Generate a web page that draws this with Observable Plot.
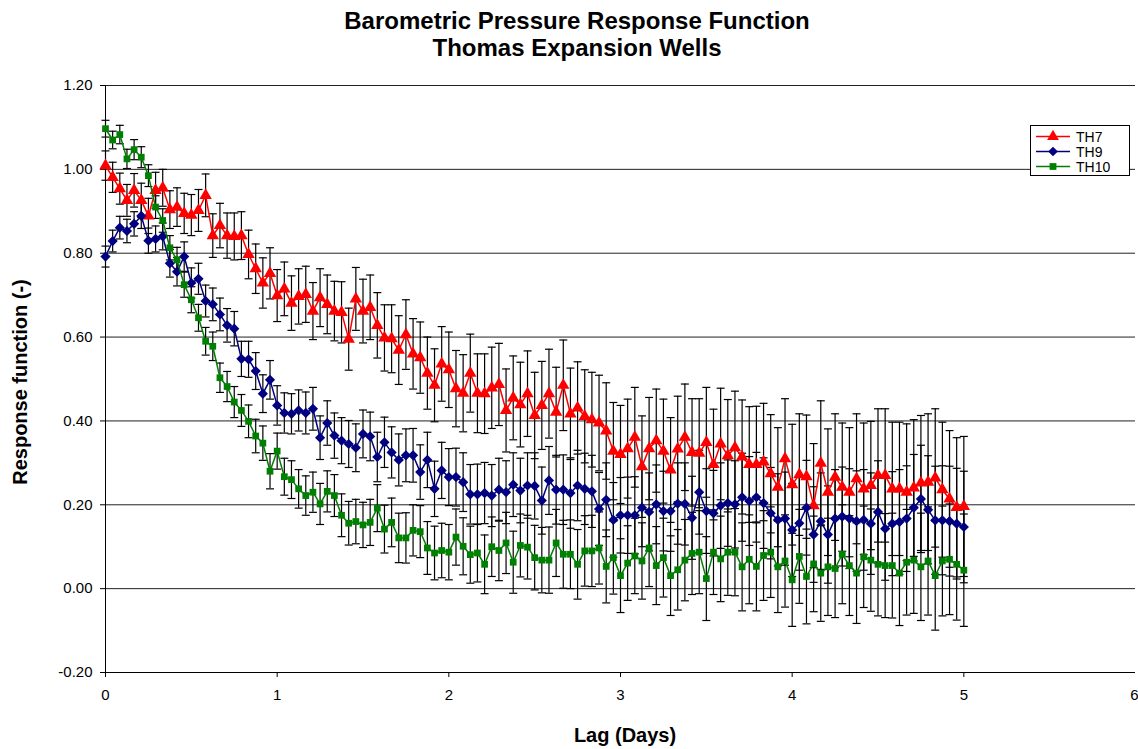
<!DOCTYPE html>
<html>
<head>
<meta charset="utf-8">
<script src="https://cdn.jsdelivr.net/npm/d3@7"></script>
<script src="https://cdn.jsdelivr.net/npm/@observablehq/plot@0.6"></script>
<style>
  body { margin: 0; background: #fff; }
  #wrap { position: relative; width: 1138px; height: 749px; font-family: "Liberation Sans", Arial, sans-serif; color: #000; }
  .title { position: absolute; left: 0; width: 1154px; text-align: center; font-weight: bold; font-size: 24px; line-height: 27px; }
  #ylab { position: absolute; left: 20px; top: 382px; transform: translate(-50%, -50%) rotate(-90deg); font-weight: bold; font-size: 20px; white-space: nowrap; }
  #xlab { position: absolute; left: 625px; top: 735px; transform: translate(-50%, -50%); font-weight: bold; font-size: 20px; white-space: nowrap; }
  #legend { position: absolute; left: 1030px; top: 125px; width: 100px; height: 51px; border: 1px solid #000; background: #fff; box-sizing: border-box; font-size: 14px; }
  .lrow { position: absolute; left: 4px; height: 15px; display: flex; align-items: center; }
  .lrow svg { margin-right: 5px; }
</style>
</head>
<body>
<div id="wrap">
  <div id="chart"></div>
  <div class="title" style="top:7px">Barometric Pressure Response Function</div>
  <div class="title" style="top:34px">Thomas Expansion Wells</div>
  <div id="ylab">Response function (-)</div>
  <div id="xlab">Lag (Days)</div>
  <div id="legend"></div>
</div>
<script>
// Lag in hours (0..120), plotted in days
const seriesNames = ["TH7", "TH9", "TH10"];
const seriesColors = ["#ff0000", "#000080", "#008000"];
const seriesSymbols = ["triangle", "diamond2", "square"];
const xTicks = [0, 1, 2, 3, 4, 5, 6];
const yTicks = [-0.2, 0, 0.2, 0.4, 0.6, 0.8, 1.0, 1.2];

const th7 = [
  1.009, 0.981, 0.954, 0.926, 0.950, 0.926, 0.889, 0.950, 0.956, 0.904, 0.910, 0.895,
  0.891, 0.902, 0.938, 0.842, 0.866, 0.842, 0.840, 0.842, 0.797, 0.763, 0.729, 0.752,
  0.699, 0.715, 0.681, 0.697, 0.702, 0.662, 0.694, 0.678, 0.662, 0.659, 0.595, 0.691,
  0.662, 0.671, 0.628, 0.598, 0.596, 0.569, 0.606, 0.560, 0.551, 0.514, 0.485, 0.536,
  0.522, 0.477, 0.466, 0.514, 0.466, 0.465, 0.479, 0.487, 0.425, 0.455, 0.439, 0.465,
  0.413, 0.437, 0.465, 0.421, 0.485, 0.417, 0.431, 0.411, 0.403, 0.395, 0.376, 0.328,
  0.320, 0.334, 0.361, 0.291, 0.334, 0.353, 0.328, 0.283, 0.333, 0.361, 0.325, 0.323,
  0.349, 0.296, 0.345, 0.317, 0.336, 0.314, 0.296, 0.296, 0.302, 0.274, 0.242, 0.310,
  0.248, 0.272, 0.267, 0.198, 0.299, 0.230, 0.266, 0.242, 0.230, 0.262, 0.238, 0.246,
  0.270, 0.270, 0.238, 0.238, 0.230, 0.240, 0.252, 0.254, 0.264, 0.236, 0.214, 0.194,
  0.196
];
const th9 = [
  0.792, 0.829, 0.861, 0.853, 0.870, 0.889, 0.830, 0.834, 0.840, 0.776, 0.756, 0.792,
  0.729, 0.739, 0.686, 0.678, 0.654, 0.628, 0.620, 0.548, 0.547, 0.519, 0.465, 0.498,
  0.437, 0.419, 0.417, 0.425, 0.419, 0.429, 0.360, 0.395, 0.365, 0.353, 0.345, 0.336,
  0.369, 0.363, 0.314, 0.349, 0.325, 0.307, 0.318, 0.318, 0.278, 0.307, 0.238, 0.282,
  0.266, 0.266, 0.254, 0.225, 0.225, 0.228, 0.222, 0.236, 0.230, 0.248, 0.234, 0.246,
  0.245, 0.210, 0.258, 0.236, 0.236, 0.228, 0.246, 0.238, 0.232, 0.190, 0.212, 0.164,
  0.175, 0.175, 0.175, 0.193, 0.183, 0.201, 0.185, 0.185, 0.203, 0.202, 0.169, 0.230,
  0.185, 0.180, 0.198, 0.204, 0.201, 0.218, 0.209, 0.218, 0.204, 0.180, 0.164, 0.167,
  0.140, 0.156, 0.193, 0.129, 0.161, 0.129, 0.167, 0.172, 0.167, 0.161, 0.164, 0.155,
  0.183, 0.143, 0.155, 0.159, 0.167, 0.193, 0.214, 0.188, 0.163, 0.163, 0.161, 0.155,
  0.147
];
const th10 = [
  1.097, 1.070, 1.083, 1.025, 1.047, 1.029, 0.985, 0.910, 0.878, 0.813, 0.784, 0.725,
  0.689, 0.646, 0.590, 0.578, 0.503, 0.482, 0.445, 0.425, 0.399, 0.364, 0.347, 0.280,
  0.328, 0.267, 0.260, 0.238, 0.222, 0.230, 0.202, 0.232, 0.222, 0.175, 0.156, 0.160,
  0.152, 0.158, 0.192, 0.142, 0.158, 0.121, 0.121, 0.139, 0.136, 0.097, 0.085, 0.091,
  0.087, 0.123, 0.101, 0.081, 0.085, 0.058, 0.100, 0.091, 0.109, 0.063, 0.103, 0.099,
  0.074, 0.068, 0.068, 0.109, 0.082, 0.082, 0.058, 0.090, 0.090, 0.097, 0.053, 0.074,
  0.031, 0.061, 0.078, 0.066, 0.097, 0.055, 0.074, 0.031, 0.045, 0.068, 0.084, 0.087,
  0.024, 0.087, 0.071, 0.087, 0.087, 0.052, 0.070, 0.053, 0.079, 0.087, 0.052, 0.066,
  0.021, 0.077, 0.029, 0.059, 0.037, 0.052, 0.048, 0.082, 0.055, 0.037, 0.076, 0.068,
  0.058, 0.055, 0.055, 0.037, 0.063, 0.068, 0.052, 0.066, 0.031, 0.066, 0.070, 0.058,
  0.044
];
// error half-widths
const err7 = [
  0.035, 0.036, 0.037, 0.038, 0.040, 0.041, 0.042, 0.043, 0.044, 0.045, 0.046, 0.048,
  0.049, 0.050, 0.051, 0.052, 0.053, 0.054, 0.056, 0.057, 0.058, 0.059, 0.060, 0.061,
  0.062, 0.064, 0.065, 0.066, 0.067, 0.068, 0.069, 0.070, 0.071, 0.073, 0.074, 0.075,
  0.076, 0.077, 0.078, 0.079, 0.081, 0.082, 0.083, 0.084, 0.085, 0.086, 0.087, 0.089,
  0.090, 0.091, 0.092, 0.093, 0.094, 0.095, 0.097, 0.098, 0.099, 0.100, 0.101, 0.102,
  0.103, 0.105, 0.106, 0.107, 0.108, 0.109, 0.110, 0.111, 0.113, 0.114, 0.115, 0.116,
  0.117, 0.118, 0.119, 0.121, 0.122, 0.123, 0.124, 0.125, 0.126, 0.127, 0.128, 0.130,
  0.131, 0.132, 0.133, 0.134, 0.135, 0.136, 0.138, 0.139, 0.140, 0.141, 0.142, 0.143,
  0.144, 0.145, 0.147, 0.148, 0.149, 0.151, 0.151, 0.153, 0.154, 0.155, 0.157, 0.153,
  0.159, 0.159, 0.159, 0.159, 0.163, 0.163, 0.161, 0.163, 0.165, 0.161, 0.163, 0.166,
  0.167
];
const err9 = [
  0.025, 0.026, 0.027, 0.028, 0.029, 0.030, 0.030, 0.031, 0.032, 0.033, 0.034, 0.035,
  0.036, 0.037, 0.038, 0.039, 0.039, 0.040, 0.041, 0.042, 0.043, 0.044, 0.045, 0.046,
  0.047, 0.048, 0.048, 0.049, 0.050, 0.051, 0.052, 0.053, 0.054, 0.055, 0.056, 0.057,
  0.057, 0.058, 0.059, 0.060, 0.061, 0.062, 0.063, 0.064, 0.065, 0.066, 0.066, 0.067,
  0.068, 0.069, 0.070, 0.071, 0.072, 0.073, 0.074, 0.075, 0.075, 0.076, 0.077, 0.078,
  0.079, 0.080, 0.081, 0.082, 0.083, 0.084, 0.084, 0.085, 0.086, 0.087, 0.088, 0.089,
  0.090, 0.091, 0.092, 0.093, 0.093, 0.094, 0.095, 0.096, 0.097, 0.098, 0.099, 0.100,
  0.101, 0.102, 0.102, 0.103, 0.104, 0.105, 0.106, 0.107, 0.108, 0.109, 0.110, 0.111,
  0.111, 0.112, 0.113, 0.114, 0.115, 0.116, 0.117, 0.118, 0.119, 0.120, 0.120, 0.121,
  0.122, 0.123, 0.124, 0.125, 0.126, 0.127, 0.128, 0.129, 0.129, 0.130, 0.131, 0.132,
  0.133
];
const err10 = [
  0.020, 0.021, 0.022, 0.023, 0.024, 0.025, 0.026, 0.027, 0.028, 0.029, 0.030, 0.030,
  0.031, 0.032, 0.033, 0.034, 0.035, 0.036, 0.037, 0.038, 0.039, 0.040, 0.041, 0.042,
  0.043, 0.044, 0.045, 0.046, 0.047, 0.048, 0.049, 0.049, 0.050, 0.051, 0.052, 0.053,
  0.054, 0.055, 0.056, 0.057, 0.058, 0.059, 0.060, 0.061, 0.062, 0.063, 0.064, 0.065,
  0.066, 0.067, 0.068, 0.068, 0.069, 0.070, 0.071, 0.072, 0.073, 0.074, 0.075, 0.076,
  0.077, 0.078, 0.079, 0.080, 0.081, 0.082, 0.083, 0.084, 0.085, 0.086, 0.087, 0.087,
  0.088, 0.089, 0.090, 0.091, 0.092, 0.093, 0.094, 0.095, 0.096, 0.097, 0.098, 0.099,
  0.100, 0.101, 0.102, 0.103, 0.104, 0.105, 0.106, 0.106, 0.107, 0.108, 0.109, 0.110,
  0.111, 0.112, 0.113, 0.114, 0.115, 0.116, 0.117, 0.118, 0.119, 0.120, 0.121, 0.122,
  0.123, 0.124, 0.125, 0.125, 0.126, 0.127, 0.128, 0.129, 0.130, 0.131, 0.132, 0.133,
  0.134
];

const values = [th7, th9, th10];
const errs = [err7, err9, err10];
const data = [];
seriesNames.forEach((name, s) => {
  values[s].forEach((v, h) => {
    data.push({series: name, lag: h / 24, v, lo: v - errs[s][h], hi: v + errs[s][h]});
  });
});

const capSymbol = {
  draw(context) { context.moveTo(-4, 0); context.lineTo(4, 0); }
};

const marks = [
  Plot.gridY(yTicks, {stroke: "#222", strokeOpacity: 1, strokeWidth: 1}),
  Plot.ruleX([0], {stroke: "#000", strokeWidth: 1}),
  Plot.ruleY([-0.2], {stroke: "#000", strokeWidth: 1}),
  Plot.axisY(yTicks, {tickSize: 5, tickPadding: 8, tickFormat: d => d.toFixed(2), fontSize: 15, label: null}),
  Plot.axisX(xTicks.slice(0, -1), {tickSize: 5, tickPadding: 12, tickFormat: d => String(d), fontSize: 15, label: null}),
  Plot.axisX(xTicks.slice(-1), {tickSize: 5, tickPadding: 12, tickFormat: d => String(d), fontSize: 15, label: null, textAnchor: "end", dx: 3}),
  Plot.ruleX(data, {x: "lag", y1: "lo", y2: "hi", stroke: "#000", strokeWidth: 1.2}),
  Plot.dot(data, {x: "lag", y: "lo", symbol: capSymbol, r: 4, stroke: "#000", fill: "none", strokeWidth: 1.2}),
  Plot.dot(data, {x: "lag", y: "hi", symbol: capSymbol, r: 4, stroke: "#000", fill: "none", strokeWidth: 1.2})
];
seriesNames.forEach((name, s) => {
  const sub = data.filter(d => d.series === name);
  marks.push(Plot.line(sub, {x: "lag", y: "v", stroke: seriesColors[s], strokeWidth: 1.5}));
  marks.push(Plot.dot(sub, {x: "lag", y: "v", symbol: seriesSymbols[s], r: s === 2 ? 3.8 : 4.6, fill: seriesColors[s], stroke: "none"}));
});

const chart = Plot.plot({
  width: 1138,
  height: 749,
  marginTop: 85,
  marginBottom: 77,
  marginLeft: 105,
  marginRight: 3,
  x: {domain: [0, 6]},
  y: {domain: [-0.2, 1.2]},
  style: {fontFamily: "'Liberation Sans', Arial, sans-serif", fontSize: "15px", color: "#000", background: "#fff"},
  marks
});
document.getElementById("chart").appendChild(chart);

// legend
const legend = document.getElementById("legend");
seriesNames.forEach((name, s) => {
  const row = document.createElement("div");
  row.className = "lrow";
  row.style.top = (3 + s * 15) + "px";
  const sym = d3.symbol(s === 0 ? d3.symbolTriangle : s === 1 ? d3.symbolDiamond2 : d3.symbolSquare, s === 2 ? 46 : 60)();
  row.innerHTML = `<svg width="36" height="15"><line x1="1" x2="35" y1="7.5" y2="7.5" stroke="${seriesColors[s]}" stroke-width="1.5"/><path transform="translate(18,7.5)" d="${sym}" fill="${seriesColors[s]}"/></svg><span>${name}</span>`;
  legend.appendChild(row);
});
</script>
</body>
</html>
